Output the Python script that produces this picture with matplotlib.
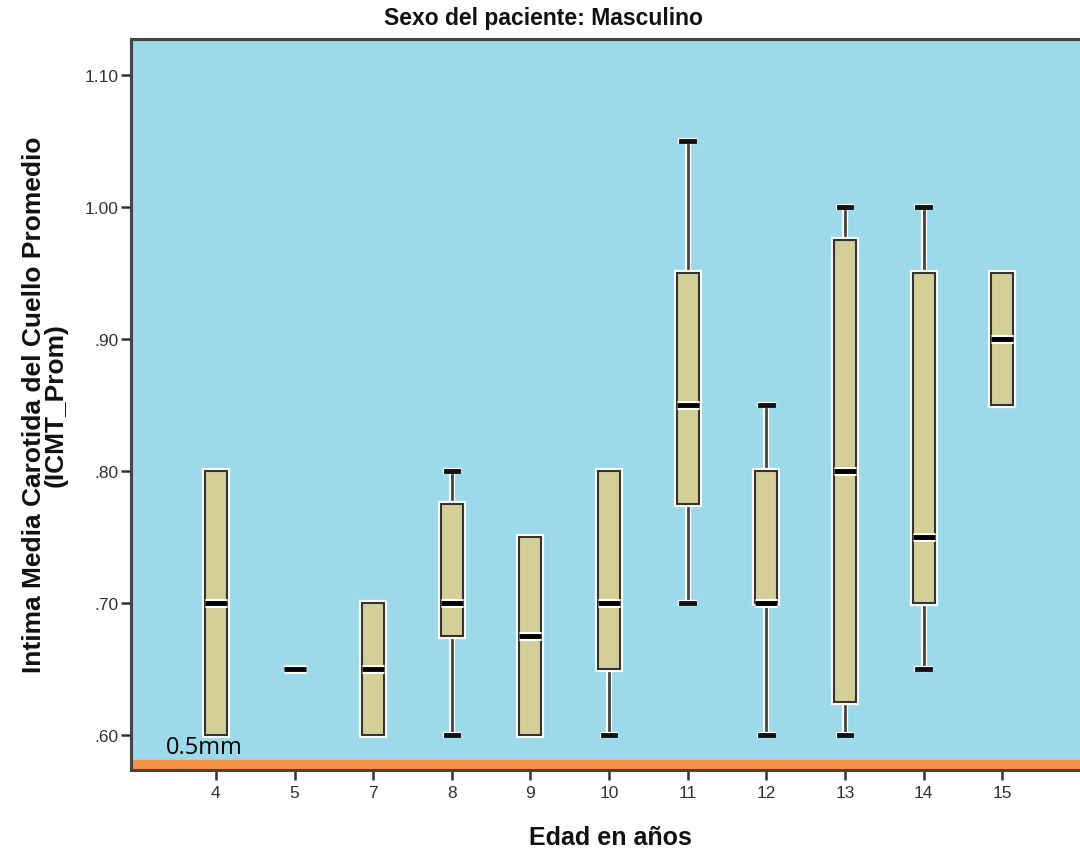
import matplotlib.pyplot as plt
import matplotlib.patheffects as pe

# edades (categorias) y estadisticos de cada caja
ages = ['4', '5', '7', '8', '9', '10', '11', '12', '13', '14', '15']
whislo = [0.60, 0.65, 0.60, 0.60, 0.60, 0.60, 0.70, 0.60, 0.60, 0.65, 0.85]
q1 = [0.60, 0.65, 0.60, 0.675, 0.60, 0.65, 0.775, 0.70, 0.625, 0.70, 0.85]
med = [0.70, 0.65, 0.65, 0.70, 0.675, 0.70, 0.85, 0.70, 0.80, 0.75, 0.90]
q3 = [0.80, 0.65, 0.70, 0.775, 0.75, 0.80, 0.95, 0.80, 0.975, 0.95, 0.95]
whishi = [0.80, 0.65, 0.70, 0.80, 0.75, 0.80, 1.05, 0.85, 1.00, 1.00, 0.95]

yticks = [0.60, 0.70, 0.80, 0.90, 1.00, 1.10]
ytick_labels = ['.60', '.70', '.80', '.90', '1.00', '1.10']

plt.rcParams['font.family'] = ['Liberation Sans', 'DejaVu Sans']

fig = plt.figure(figsize=(10.8, 8.53), dpi=100)
ax = fig.add_axes([0.1213, 0.0961, 0.8787, 0.857])
ax.set_facecolor('#9cd9ea')

stats = []
for i in range(len(ages)):
    stats.append(dict(whislo=whislo[i], q1=q1[i], med=med[i], q3=q3[i],
                      whishi=whishi[i], fliers=[], label=ages[i]))

halo = [pe.Stroke(linewidth=4.5, foreground='white'), pe.Normal()]
halo_med = [pe.Stroke(linewidth=6.5, foreground='white'), pe.Normal()]

bp = ax.bxp(stats, positions=range(len(ages)), widths=0.28, capwidths=0.16,
            patch_artist=True, showfliers=False,
            boxprops=dict(facecolor='#d4cf98', edgecolor='#333333', linewidth=1.5),
            whiskerprops=dict(color='#444444', linewidth=2),
            capprops=dict(color='#111111', linewidth=3.5),
            medianprops=dict(color='black', linewidth=3.5))
for art in bp['boxes']:
    art.set_path_effects(halo)
    art.set_zorder(3)
for art in bp['whiskers'] + bp['caps']:
    art.set_path_effects(halo)
    art.set_zorder(2)
for art in bp['medians']:
    art.set_path_effects(halo_med)
    art.set_zorder(4)

# sin bigote cuando coincide con el borde de la caja
for i in range(len(ages)):
    if whislo[i] == q1[i]:
        bp['caps'][2 * i].set_visible(False)
        bp['whiskers'][2 * i].set_visible(False)
    if whishi[i] == q3[i]:
        bp['caps'][2 * i + 1].set_visible(False)
        bp['whiskers'][2 * i + 1].set_visible(False)

# banda naranja de referencia
ax.axhspan(0.5743, 0.581, color='#f39344', zorder=1)
ax.text(-0.64, 0.5815, '0.5mm', fontsize=17, family=['Open Sans', 'DejaVu Sans'],
        color='black', va='bottom')

ax.set_xlim(-1.08, 10.99)
ax.set_ylim(0.5735, 1.1273)
ax.set_yticks(yticks)
ax.set_yticklabels(ytick_labels)
ax.set_xticks(range(len(ages)))
ax.set_xticklabels(ages)
ax.tick_params(axis='both', length=7, width=1.8, color='#333333',
               labelsize=12.5, labelcolor='#333333')
ax.tick_params(axis='y', pad=2)

for s in ['left', 'bottom', 'top']:
    ax.spines[s].set_color('#444444')
    ax.spines[s].set_linewidth(2.2)
ax.spines['right'].set_visible(False)

fig.text(610 / 1080, 1 - 838 / 853, 'Edad en años', ha='center', va='center',
         fontsize=18, fontweight='bold', color='#111111')
fig.text(45 / 1080, 1 - 405 / 853,
         'Intima Media Carotida del Cuello Promedio\n(ICMT_Prom)',
         ha='center', va='center', rotation=90, fontsize=19, fontweight='bold',
         linespacing=0.9, color='#111111')
fig.text(543 / 1080, 1 - 19 / 853, 'Sexo del paciente: Masculino',
         ha='center', va='center', fontsize=16.5, fontweight='bold', color='#111111')

fig.savefig('out.png', dpi=100)
